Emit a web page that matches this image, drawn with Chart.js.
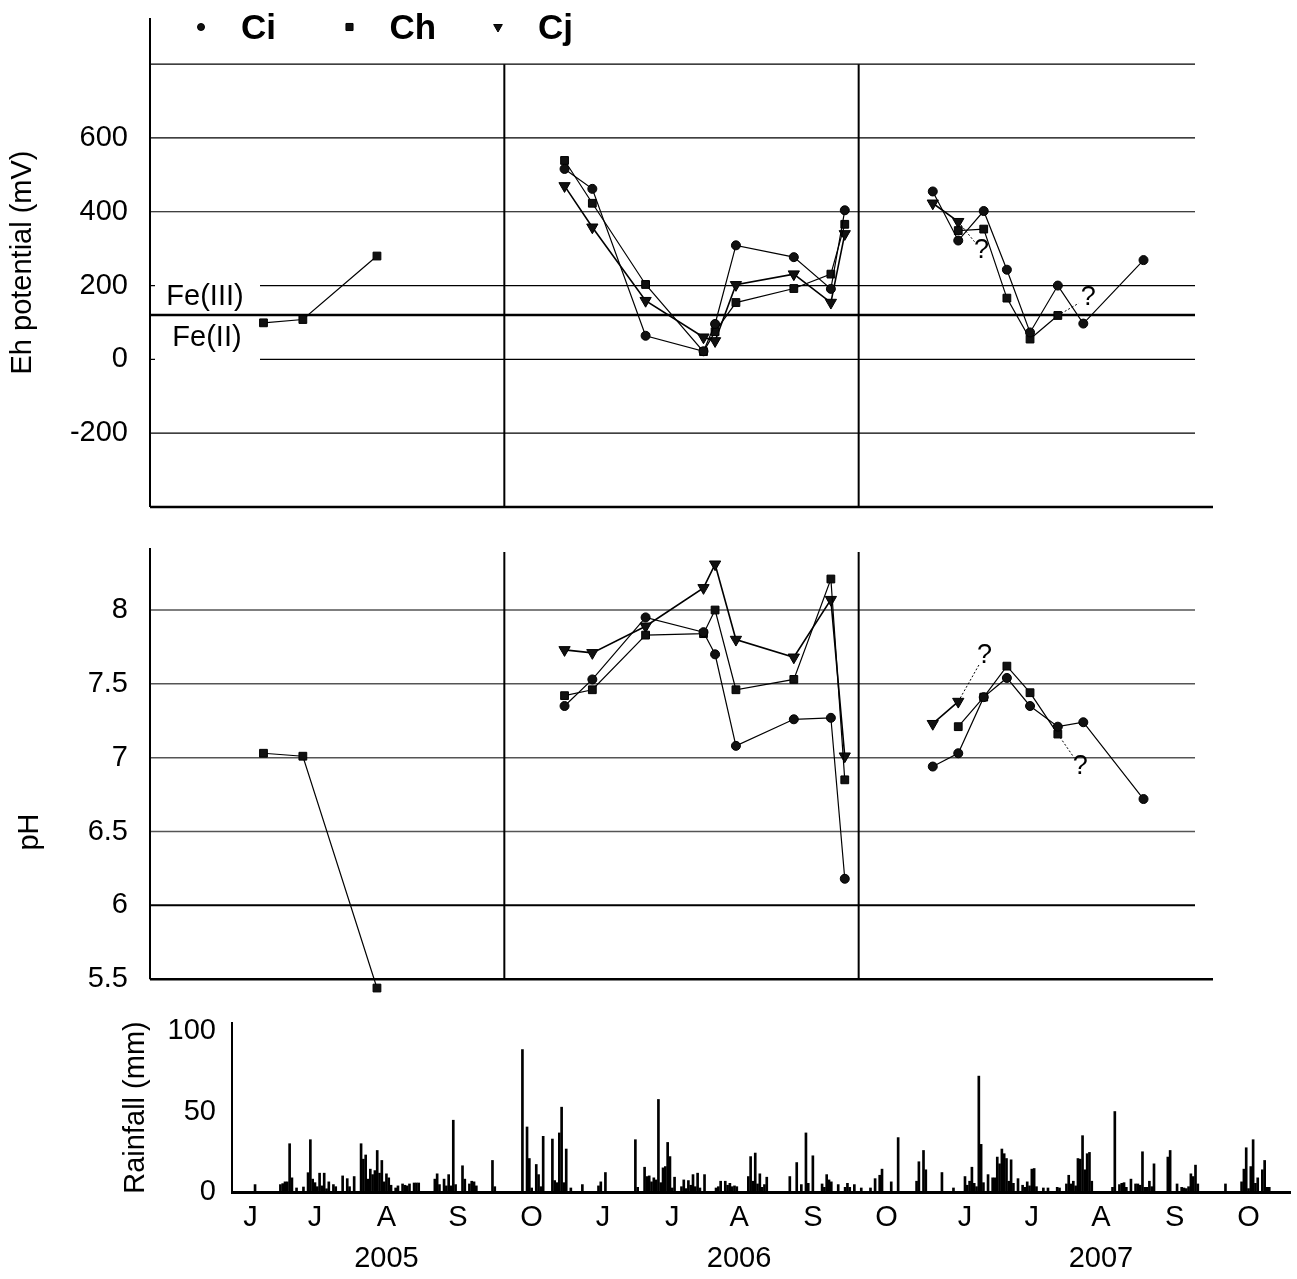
<!DOCTYPE html>
<html>
<head>
<style>
    body, html {
        margin: 0;
        padding: 0;
        background: #fff;
    }
    #page {
        position: relative;
        width: 1297px;
        height: 1279px;
    }
    canvas {
        position: absolute;
    }
    #ehChart { left: 0; top: 0; }
    #phChart { left: 0; top: 530px; }
    #rainChart { left: 115px; top: 1005px; }
</style>
<script src="https://cdn.jsdelivr.net/npm/chart.js"></script>
</head>
<body>
<div id="page">
    <canvas id="ehChart" width="1297" height="520"></canvas>
    <canvas id="phChart" width="1297" height="470"></canvas>
    <canvas id="rainChart" width="1182" height="274"></canvas>
</div>

<script>
// day index counts only the June-October field seasons: 0 = 1 June 2005, 153 = 1 June 2006, 306 = 1 June 2007
const sampleDays = [49, 66, 98, 179, 191, 214, 239, 244, 253, 278, 294, 300, 338, 349, 360, 370, 380, 392, 403, 429];

const ehCi = [null, null, null, 516, 462, 64, 22, 96, 309, 277, 191, 404, 455, 322, 402, 243, 73, 200, 97, 269];
const ehCh = [99, 108, 280, 539, 423, 203, 21, 75, 154, 192, 231, 366, null, 349, 353, 166, 55, 119, null, null];
const ehCj = [null, null, null, 470, 358, 159, 60, 50, 202, 231, 154, 340, 423, 373, null, null, null, null, null, null];

const phCi = [null, null, null, 7.35, 7.53, 7.95, 7.85, 7.70, 7.08, 7.26, 7.27, 6.18, 6.94, 7.03, 7.41, 7.54, 7.35, 7.21, 7.24, 6.72];
const phCh = [7.03, 7.01, 5.44, 7.42, 7.46, 7.83, 7.84, 8.00, 7.46, 7.53, 8.21, 6.85, null, 7.21, 7.41, 7.62, 7.44, 7.16, null, null];
const phCj = [null, null, null, 7.73, 7.71, 7.89, 8.15, 8.31, 7.80, 7.68, 8.07, 7.01, 7.23, 7.38, null, null, null, null, null, null];

// uncertain continuations ("?"): start sample index, end day, end value
const ehUnknownCj = [13, 356, 319];
const ehUnknownCh = [17, 401, 152];
const phUnknownCj = [13, 358, 7.63];
const phUnknownCh = [17, 399, 7.00];

const feBoundary = 120;
const ehTicks = [-200, 0, 200, 400, 600];
const ehGrid = [-200, 0, 200, 400, 600, 800];
const phTicks = [5.5, 6, 6.5, 7, 7.5, 8];
const phGrid = [6, 6.5, 7, 7.5, 8];
const phBase = 5.5;
const yearStarts = [153, 306];

const rainDays = [10, 21, 22, 23, 24, 25, 26, 28, 31, 33, 34, 35, 36, 37, 38, 39, 40, 41, 42, 44, 45, 48, 50, 51, 53,
    56, 57, 58, 59, 60, 61, 62, 63, 64, 65, 66, 67, 68, 69, 71, 72, 74, 75, 76, 77, 79, 80, 81, 88, 89, 90, 92, 93, 94, 95,
    96, 97, 100, 101, 103, 104, 105, 106, 113, 114, 126, 128, 129, 130, 132, 133, 134, 135, 139, 140, 141, 142, 143, 144,
    145, 147, 152, 159, 160, 162, 175, 176, 179, 180, 181, 182, 183, 184, 185, 186, 187, 188, 189, 190, 191, 192, 195, 196,
    197, 198, 199, 200, 201, 202, 203, 205, 210, 211, 212, 214, 215, 216, 217, 218, 219, 224, 225, 226, 227, 228, 229, 230,
    231, 232, 242, 245, 247, 249, 250, 252, 256, 257, 258, 259, 260, 263, 266, 267, 268, 270, 273, 277, 279, 281, 282, 286,
    289, 297, 298, 300, 301, 308, 313, 318, 319, 320, 321, 322, 323, 324, 325, 326, 328, 330, 331, 332, 333, 334, 335, 336,
    337, 338, 339, 341, 343, 344, 345, 346, 347, 348, 349, 352, 354, 358, 359, 362, 363, 364, 365, 366, 367, 368, 369, 370,
    371, 372, 373, 382, 383, 385, 386, 387, 388, 390, 392, 393, 394, 395, 396, 397, 398, 399, 400, 406, 407, 410, 412, 413,
    414, 415, 416, 417, 418, 419, 431, 438, 439, 440, 441, 442, 443, 444, 445, 447, 448, 449, 450];
const rainMm = [4.6, 4.6, 5.2, 6.3, 6.3, 30, 8.8, 2.5, 3.1, 12, 32.5, 8, 5.8, 3.3, 11.7, 3.8, 11.7, 2, 6.3, 4.6, 3.3, 10, 8.3, 3.3, 9.6,
    30, 20.4, 23, 8, 14.2, 10.8, 13.3, 25.8, 11.7, 19.6, 6.3, 11.3, 8.8, 4.2, 2.5, 3.8, 5, 4.2, 3.8, 5, 5.6, 5.6, 5.6, 8, 11.3, 4.6, 8, 3.8, 10.8, 3.8,
    44.6, 4.6, 16.3, 8, 5, 6.7, 6.3, 3.8, 19.6, 3.3, 88.5, 40.4, 20.8, 2.5, 17.1, 10.8, 3.3, 34.6, 32.9, 7.1, 5.8, 36.7, 52.7, 5.8,
    26.7, 2.5, 4.6, 3.8, 6.3, 12.1, 32.5, 2.9, 15.4, 9.6, 10, 6.3, 8.8, 7.5, 57.5, 5.8, 15, 15.8, 30.8, 22, 2.5, 9.2, 3.3, 7.5,
    2.1, 7.1, 4.2, 10.8, 3.3, 11.7, 2.5, 10.8, 2.5, 3.3, 6.7, 6.7, 4.2, 5.4, 3.3, 3.8, 3.3, 9.6, 22, 6.7, 24.2, 5, 11.3, 2.9,
    4.6, 9.2, 9.6, 18.3, 4.6, 36.7, 5.4, 22.5, 5, 2.9, 10.8, 7.5, 6.3, 4.6, 2.9, 5.4, 2.9, 4.6, 2.5, 2.5, 8.3, 10.4, 14.2, 6.3,
    33.8, 6.7, 18.8, 25.8, 13.8, 12.1, 2.5, 9.6, 4.2, 6.7, 15.4, 5.4, 3.3, 72, 29.6, 5.8, 10.8, 8.8, 8.8, 21.7, 17.5, 26.7, 23.8, 20.8,
    6.7, 20, 5.4, 8.3, 4.2, 2.9, 6.3, 3.8, 14.2, 14.6, 3.3, 2.5, 2.5, 2.9, 2.5, 5, 10.4, 5, 6.7, 3.8, 20.8, 20.4, 35, 13.8,
    23.8, 24.6, 6.7, 2.9, 50, 4.6, 5.4, 5.8, 2.9, 8, 5, 5, 4.2, 25, 2.9, 2.9, 6.7, 3.3, 17.5, 21.7, 25.8, 5, 2.9, 2.5,
    2.1, 3.3, 11.3, 9.6, 16.7, 5, 5, 6.3, 14.2, 27.5, 2.1, 15.8, 32.5, 5.4, 8.8, 13.8, 19.6, 2.9, 2.9];

const monthTicks = [8, 36, 67, 98, 130, 161, 191, 220, 252, 284, 318, 347, 377, 409, 441];
const monthLabels = ['J', 'J', 'A', 'S', 'O', 'J', 'J', 'A', 'S', 'O', 'J', 'J', 'A', 'S', 'O'];
const yearLabels = ['2005', '2006', '2007'];

Chart.defaults.font.family = "'Liberation Sans', Arial, sans-serif";
Chart.defaults.color = '#000';

const FONT = 29;

// one point per sample, with a gap at each season start so seasons are not joined
function points(values) {
    const out = [];
    let b = 0;
    sampleDays.forEach((d, i) => {
        while (b < yearStarts.length && d > yearStarts[b]) {
            out.push({ x: yearStarts[b], y: null });
            b++;
        }
        out.push({ x: d, y: values[i] });
    });
    return out;
}

function unknownLine(values, spec) {
    return [{ x: sampleDays[spec[0]], y: values[spec[0]] }, { x: spec[1], y: spec[2] }];
}

const seriesStyle = {
    Ci: { pointStyle: 'circle', pointRadius: 4.5, pointRotation: 0, borderWidth: 1.2 },
    Ch: { pointStyle: 'rect', pointRadius: 5.5, pointRotation: 0, borderWidth: 1.2 },
    Cj: { pointStyle: 'triangle', pointRadius: 6.5, pointRotation: 180, borderWidth: 1.6 }
};

function series(label, values) {
    const s = seriesStyle[label];
    return {
        label: label,
        data: points(values),
        borderColor: '#000',
        backgroundColor: '#111',
        pointBackgroundColor: '#111',
        pointBorderColor: '#000',
        pointBorderWidth: 1,
        pointStyle: s.pointStyle,
        pointRadius: s.pointRadius,
        pointRotation: s.pointRotation,
        borderWidth: s.borderWidth,
        tension: 0,
        spanGaps: false,
        clip: false
    };
}

function dotted(data) {
    return {
        label: '?',
        unknown: true,
        data: data,
        borderColor: '#000',
        borderWidth: 1,
        borderDash: [2, 2],
        pointRadius: 0,
        clip: false
    };
}

// frame: axis lines, gridlines and season dividers
function framePlugin(gridValues, gridStyle, dividerTop, baseValue) {
    return {
        id: 'frame',
        beforeDatasetsDraw(chart) {
            const { ctx, chartArea: a, scales: { x, y } } = chart;
            const bottom = baseValue === undefined ? a.bottom : y.getPixelForValue(baseValue);
            ctx.save();
            const gridRight = a.right - 18;
            gridValues.forEach(v => {
                const st = gridStyle(v);
                const py = y.getPixelForValue(v);
                ctx.strokeStyle = st.color;
                ctx.lineWidth = st.width;
                ctx.beginPath();
                ctx.moveTo(a.left, py);
                ctx.lineTo(gridRight, py);
                ctx.stroke();
            });
            ctx.strokeStyle = '#000';
            ctx.lineWidth = 2;
            const top = dividerTop(chart);
            yearStarts.forEach(d => {
                const px = x.getPixelForValue(d);
                ctx.beginPath();
                ctx.moveTo(px, top);
                ctx.lineTo(px, bottom);
                ctx.stroke();
            });
            ctx.beginPath();
            ctx.moveTo(a.left, a.top);
            ctx.lineTo(a.left, bottom);
            ctx.stroke();
            ctx.lineWidth = 2.5;
            ctx.beginPath();
            ctx.moveTo(a.left, bottom);
            ctx.lineTo(a.right, bottom);
            ctx.stroke();
            ctx.restore();
        }
    };
}

const questionPlugin = {
    id: 'question',
    afterDatasetsDraw(chart) {
        const ctx = chart.ctx;
        ctx.save();
        ctx.font = '27px ' + Chart.defaults.font.family;
        ctx.fillStyle = '#000';
        ctx.textAlign = 'center';
        ctx.textBaseline = 'middle';
        chart.data.datasets.forEach((ds, i) => {
            if (!ds.unknown) return;
            const pts = chart.getDatasetMeta(i).data;
            const a = pts[0], b = pts[1];
            const dx = b.x - a.x, dy = b.y - a.y;
            const len = Math.hypot(dx, dy) || 1;
            ctx.fillText('?', b.x + dx / len * 11, b.y + dy / len * 11);
        });
        ctx.restore();
    }
};

const feLabelPlugin = {
    id: 'feLabels',
    beforeDatasetsDraw(chart) {
        const { ctx, chartArea: a, scales: { y } } = chart;
        const py = y.getPixelForValue(feBoundary);
        ctx.save();
        ctx.font = FONT + 'px ' + Chart.defaults.font.family;
        ctx.fillStyle = '#fff';
        ctx.fillRect(a.left + 5, y.getPixelForValue(200) - 3, 105, 6);
        ctx.fillRect(a.left + 5, y.getPixelForValue(0) - 3, 105, 6);
        ctx.strokeStyle = '#000';
        ctx.lineWidth = 2.5;
        ctx.beginPath();
        ctx.moveTo(a.left, py);
        ctx.lineTo(a.right - 18, py);
        ctx.stroke();
        ctx.fillStyle = '#000';
        ctx.textAlign = 'center';
        ctx.textBaseline = 'middle';
        ctx.fillText('Fe(III)', a.left + 55, py - 18);
        ctx.fillText('Fe(II)', a.left + 57, py + 23);
        ctx.restore();
    }
};

const legendPlugin = {
    id: 'seriesLegend',
    afterDraw(chart) {
        const ctx = chart.ctx;
        ctx.save();
        ctx.font = 'bold 35px ' + Chart.defaults.font.family;
        ctx.textBaseline = 'middle';
        ctx.textAlign = 'left';
        chart.data.datasets.slice(0, 3).forEach((ds, i) => {
            const mx = 201 + i * 148.5;
            const my = 27;
            ctx.fillStyle = '#111';
            ctx.strokeStyle = '#000';
            ctx.lineWidth = 1;
            Chart.helpers.drawPoint(ctx, {
                pointStyle: ds.pointStyle,
                radius: ds.pointStyle === 'circle' ? 3.5 : 5,
                rotation: ds.pointRotation,
                borderWidth: 1
            }, mx, my);
            ctx.fillStyle = '#000';
            ctx.fillText(ds.label, mx + 40, my + 2);
        });
        ctx.restore();
    }
};

const phTitlePlugin = {
    id: 'phTitle',
    afterDraw(chart) {
        const ctx = chart.ctx;
        ctx.save();
        ctx.translate(30, 832 - 530);
        ctx.rotate(-Math.PI / 2);
        ctx.font = FONT + 'px ' + Chart.defaults.font.family;
        ctx.fillStyle = '#000';
        ctx.textAlign = 'center';
        ctx.textBaseline = 'middle';
        ctx.fillText('pH', 0, 0);
        ctx.restore();
    }
};

const hiddenX = { type: 'linear', min: 0, max: 459, display: false, offset: false };

function fixWidth(w) {
    return s => {
        s.width = w;
        s.paddingTop = 0;
        s.paddingBottom = 0;
    };
}

new Chart(document.getElementById('ehChart'), {
    type: 'line',
    data: {
        datasets: [
            series('Ci', ehCi),
            series('Ch', ehCh),
            series('Cj', ehCj),
            dotted(unknownLine(ehCj, ehUnknownCj)),
            dotted(unknownLine(ehCh, ehUnknownCh))
        ]
    },
    options: {
        responsive: false,
        animation: false,
        events: [],
        layout: { autoPadding: false, padding: { top: 18, bottom: 13, left: 0, right: 84 } },
        plugins: { legend: { display: false }, tooltip: { enabled: false } },
        scales: {
            x: hiddenX,
            y: {
                min: -400,
                max: 925,
                afterFit: fixWidth(150),
                afterBuildTicks: s => { s.ticks = ehTicks.map(v => ({ value: v })); },
                grid: { display: false, drawTicks: false },
                border: { display: false },
                ticks: { padding: 22, font: { size: FONT }, callback: v => String(v) },
                title: { display: true, text: 'Eh potential (mV)', font: { size: FONT }, padding: { top: 6, bottom: 0 } }
            }
        }
    },
    plugins: [
        framePlugin(ehGrid, () => ({ color: '#000', width: 1.2 }), c => c.scales.y.getPixelForValue(800)),
        feLabelPlugin,
        questionPlugin,
        legendPlugin
    ]
});

new Chart(document.getElementById('phChart'), {
    type: 'line',
    data: {
        datasets: [
            series('Ci', phCi),
            series('Ch', phCh),
            series('Cj', phCj),
            dotted(unknownLine(phCj, phUnknownCj)),
            dotted(unknownLine(phCh, phUnknownCh))
        ]
    },
    options: {
        responsive: false,
        animation: false,
        events: [],
        layout: { autoPadding: false, padding: { top: 18, bottom: 9, left: 0, right: 84 } },
        plugins: { legend: { display: false }, tooltip: { enabled: false } },
        scales: {
            x: hiddenX,
            y: {
                min: 5.42,
                max: 8.42,
                afterFit: fixWidth(150),
                afterBuildTicks: s => { s.ticks = phTicks.map(v => ({ value: v })); },
                grid: { display: false, drawTicks: false },
                border: { display: false },
                ticks: { padding: 22, font: { size: FONT }, callback: v => String(v) }
            }
        }
    },
    plugins: [
        framePlugin(phGrid, v => v === 6 ? { color: '#000', width: 2 } : { color: '#555', width: 1.5 },
            c => c.chartArea.top + 4, phBase),
        questionPlugin,
        phTitlePlugin
    ]
});

new Chart(document.getElementById('rainChart'), {
    type: 'bar',
    data: {
        datasets: [{
            label: 'Rainfall',
            data: rainDays.map((d, i) => ({ x: d, y: rainMm[i] })),
            backgroundColor: '#000',
            borderWidth: 0,
            barThickness: 2
        }]
    },
    options: {
        responsive: false,
        animation: false,
        events: [],
        layout: { autoPadding: false, padding: { top: 18, bottom: 0, left: 0, right: 7 } },
        plugins: { legend: { display: false }, tooltip: { enabled: false } },
        scales: {
            x: {
                type: 'linear',
                min: 0,
                max: 459,
                offset: false,
                afterFit: s => { s.height = 87; s.paddingLeft = 0; s.paddingRight = 0; },
                afterBuildTicks: s => { s.ticks = monthTicks.map(v => ({ value: v })); },
                grid: { display: false, drawTicks: false },
                border: { display: true, width: 3, color: '#000' },
                ticks: {
                    padding: 5,
                    maxRotation: 0,
                    autoSkip: false,
                    font: { size: FONT, lineHeight: 1.42 },
                    callback: (v, i) => i % 5 === 2 ? [monthLabels[i], yearLabels[Math.floor(i / 5)]] : monthLabels[i]
                }
            },
            y: {
                min: 0,
                max: 105,
                afterFit: fixWidth(117),
                afterBuildTicks: s => { s.ticks = [0, 50, 100].map(v => ({ value: v })); },
                grid: { display: false, drawTicks: false },
                border: { display: true, width: 2, color: '#000' },
                ticks: { padding: 16, font: { size: FONT } },
                title: { display: true, text: 'Rainfall (mm)', font: { size: FONT }, padding: { top: 4, bottom: 0 } }
            }
        }
    }
});
</script>
</body>
</html>
